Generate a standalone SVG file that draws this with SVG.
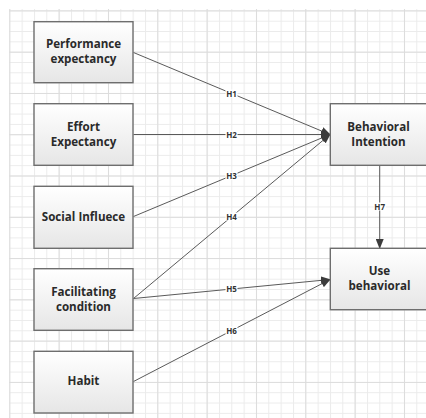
<svg xmlns="http://www.w3.org/2000/svg" width="426" height="418" viewBox="0 0 426 418">
<defs>
<pattern id="minor" x="9.3" y="10.4" width="12.333" height="10.32" patternUnits="userSpaceOnUse">
<path d="M0.5 0 V10.32 M0 0.5 H12.333" fill="none" stroke="#ebebeb" stroke-width="1"/>
</pattern>
<pattern id="major" x="9.3" y="10.4" width="49.333" height="41.28" patternUnits="userSpaceOnUse">
<path d="M0.5 0 V41.28 M0 0.5 H49.333" fill="none" stroke="#dcdcdc" stroke-width="1"/>
</pattern>
<linearGradient id="boxfill" x1="0" y1="0" x2="0" y2="1">
<stop offset="0" stop-color="#ffffff"/>
<stop offset="1" stop-color="#e6e6e6"/>
</linearGradient>
<marker id="arrow" markerWidth="10" markerHeight="8" refX="9" refY="4" orient="auto" markerUnits="userSpaceOnUse">
<path d="M0 0 L10 4 L0 8 Z" fill="#3c3c3c"/>
</marker>
</defs>
<style>
.box{fill:url(#boxfill);stroke:#6e6e6e;stroke-width:1.4}
.lbl{font-family:"Open Sans","Liberation Sans",sans-serif;font-weight:bold;font-size:11.6px;fill:#2a2a2a;text-anchor:middle}
.hl{font-family:"Open Sans","Liberation Sans",sans-serif;font-weight:bold;font-size:8px;fill:#333;text-anchor:middle}
.edge{stroke:#5a5a5a;stroke-width:1;fill:none}
.hbg{fill:#ffffff}
</style>
<rect x="0" y="0" width="426" height="418" fill="#ffffff"/>
<rect x="9" y="9" width="417" height="409" fill="url(#minor)"/>
<rect x="9" y="9" width="417" height="409" fill="url(#major)"/>

<g id="connectors">
<line class="edge" x1="133.5" y1="52.5" x2="330" y2="134.5" marker-end="url(#arrow)"/>
<line class="edge" x1="133.5" y1="134.5" x2="330" y2="134.5" marker-end="url(#arrow)"/>
<line class="edge" x1="133.5" y1="216.5" x2="330" y2="134.5" marker-end="url(#arrow)"/>
<line class="edge" x1="133.5" y1="298.5" x2="330" y2="134.5" marker-end="url(#arrow)"/>
<line class="edge" x1="133.5" y1="298.5" x2="330" y2="279.5" marker-end="url(#arrow)"/>
<line class="edge" x1="133.5" y1="381.5" x2="330" y2="279.5" marker-end="url(#arrow)"/>
<line class="edge" x1="379.7" y1="165.5" x2="379.7" y2="248" marker-end="url(#arrow)"/>
<g id="labels">
<rect class="hbg" x="225.5" y="89.5" width="12" height="8"/>
<text class="hl" x="231.5" y="96.5">H1</text>
<rect class="hbg" x="225.5" y="130.5" width="12" height="8"/>
<text class="hl" x="231.5" y="137.5">H2</text>
<rect class="hbg" x="225.5" y="172" width="12" height="8"/>
<text class="hl" x="231.5" y="179">H3</text>
<rect class="hbg" x="225.5" y="212.5" width="12" height="8"/>
<text class="hl" x="231.5" y="219.5">H4</text>
<rect class="hbg" x="225.5" y="285" width="12" height="8"/>
<text class="hl" x="231.5" y="292">H5</text>
<rect class="hbg" x="225.5" y="326.5" width="12" height="8"/>
<text class="hl" x="231.5" y="333.5">H6</text>
<rect class="hbg" x="373.7" y="202.5" width="12" height="8"/>
<text class="hl" x="379.7" y="209.5">H7</text>
</g>
</g>

<g id="performance">
<rect class="box" x="34" y="21.7" width="99" height="61"/>
<text class="lbl" x="83.5" y="48.3">Performance</text>
<text class="lbl" x="83.5" y="63.3">expectancy</text>
</g>
<g id="effort">
<rect class="box" x="34" y="103.7" width="99" height="61.6"/>
<text class="lbl" x="83.5" y="130.7">Effort</text>
<text class="lbl" x="83.5" y="145.7">Expectancy</text>
</g>
<g id="social">
<rect class="box" x="34" y="186.3" width="99" height="62"/>
<text class="lbl" x="83.5" y="220.7">Social Influece</text>
</g>
<g id="facilitating">
<rect class="box" x="34" y="268.7" width="99" height="61.6"/>
<text class="lbl" x="83.5" y="295.7">Facilitating</text>
<text class="lbl" x="83.5" y="310.5">condition</text>
</g>
<g id="habit">
<rect class="box" x="34" y="351.3" width="99" height="61.7"/>
<text class="lbl" x="83.5" y="385">Habit</text>
</g>
<g id="intention">
<rect class="box" x="330.3" y="103.7" width="100" height="61.6"/>
<text class="lbl" x="378.5" y="130.7">Behavioral</text>
<text class="lbl" x="378.5" y="146">Intention</text>
</g>
<g id="use">
<rect class="box" x="330.3" y="248.3" width="100" height="61.4"/>
<text class="lbl" x="379.5" y="274.7">Use</text>
<text class="lbl" x="379.5" y="290">behavioral</text>
</g>
</svg>
